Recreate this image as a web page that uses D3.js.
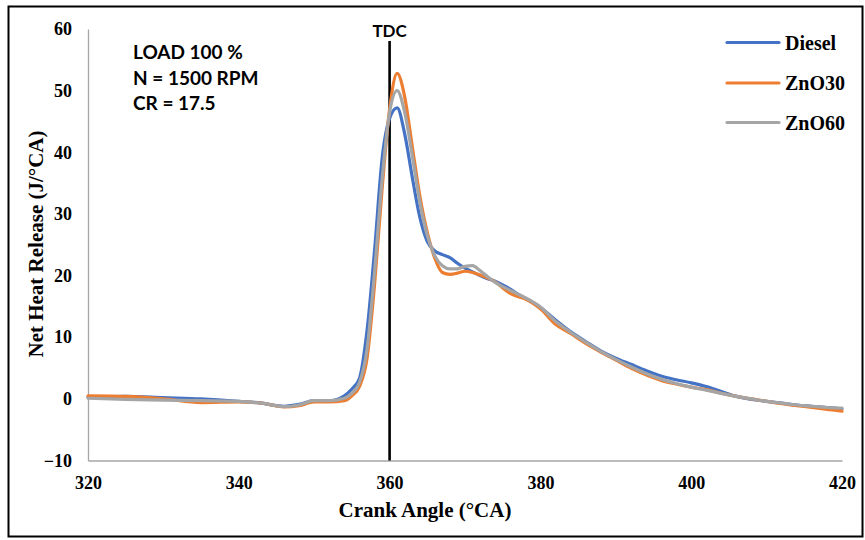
<!DOCTYPE html>
<html>
<head>
<meta charset="utf-8">
<script src="https://cdn.jsdelivr.net/npm/d3@7"></script>
<style>
  body { margin: 0; background: #fff; }
  svg { display: block; }
</style>
</head>
<body>
<div id="chart"></div>
<script>
// crank angle samples (deg CA)
var theta = [320, 325, 330, 335, 340, 343, 346, 348, 350, 352, 354, 355, 356, 357, 358, 359,
  360, 361, 362, 363, 364, 365, 366, 367, 368, 369, 370, 371, 372, 373, 374, 375, 376, 377, 378,
  380, 382, 384, 386, 388, 390, 392, 394, 396, 398, 400, 402, 404, 406, 408, 410, 412, 414, 416, 418, 420];

var diesel = [0.3, 0.4, 0.2, 0.0, -0.4, -0.7, -1.2, -0.9, -0.3, -0.3, 0.5, 1.6, 3.3, 11, 24, 38.9,
  45.5, 47.2, 43, 36, 29.5, 25.5, 24.0, 23.4, 22.9, 22.0, 21.2, 20.6, 20.0, 19.5, 19.1, 18.5, 17.8, 17.0, 16.3,
  14.8, 12.8, 10.9, 9.3, 7.8, 6.6, 5.6, 4.6, 3.7, 3.1, 2.6, 2.0, 1.2, 0.4, -0.1, -0.4, -0.7, -1.0, -1.2, -1.4, -1.6];

var zno30 = [0.5, 0.4, 0.0, -0.6, -0.5, -0.7, -1.3, -1.1, -0.5, -0.5, -0.3, 0.5, 2.0, 6.5, 18.5, 34,
  47, 52.8, 49, 41, 33, 27, 22.8, 20.5, 20.2, 20.4, 20.7, 20.5, 20.1, 19.6, 19.0, 18.0, 17.1, 16.6, 16.2,
  14.6, 12.1, 10.6, 9.0, 7.6, 6.3, 5.0, 3.9, 3.0, 2.4, 1.9, 1.5, 0.9, 0.4, 0.0, -0.4, -0.8, -1.1, -1.4, -1.7, -2.0];

var zno60 = [0.1, -0.1, -0.2, -0.3, -0.4, -0.7, -1.25, -1.0, -0.3, -0.3, 0.1, 0.9, 2.6, 8, 20.5, 35.5,
  46.5, 50.0, 46.5, 39.5, 32, 26.5, 23.2, 21.6, 21.1, 21.1, 21.5, 21.6, 20.8, 19.8, 18.9, 18.2, 17.6, 17.0, 16.4,
  14.9, 12.6, 10.8, 9.2, 7.7, 6.4, 5.2, 4.1, 3.2, 2.5, 1.9, 1.4, 0.9, 0.4, 0.0, -0.4, -0.7, -1.0, -1.2, -1.4, -1.5];

var seriesNames = ["Diesel", "ZnO30", "ZnO60"];
var seriesColors = ["#4472C4", "#ED7D31", "#A5A5A5"];
var xTicks = [320, 340, 360, 380, 400, 420];
var yTicks = [-10, 0, 10, 20, 30, 40, 50, 60];
var tdc = 360;
var notes = ["LOAD 100 %", "N = 1500 RPM", "CR = 17.5"];

var width = 865, height = 540;
var serif = "'Liberation Serif', 'Times New Roman', serif";
var sans = "Lato, Carlito, Calibri, sans-serif";

var svg = d3.select("#chart").append("svg")
  .attr("width", width)
  .attr("height", height);

svg.append("rect")
  .attr("width", width).attr("height", height)
  .attr("fill", "#fff");

// outer frame
svg.append("rect")
  .attr("x", 8.5).attr("y", 6.5)
  .attr("width", 854).attr("height", 530)
  .attr("fill", "none")
  .attr("stroke", "#000")
  .attr("stroke-width", 2);

var x = d3.scaleLinear().domain([320, 420]).range([88, 842]);
var y = d3.scaleLinear().domain([-10, 60]).range([460.5, 29]);

// y axis
var yAxis = svg.append("g")
  .attr("transform", "translate(88,0)")
  .call(d3.axisLeft(y).tickValues(yTicks).tickSize(0).tickPadding(16));
yAxis.select(".domain").attr("stroke", "#a6a6a6").attr("stroke-width", 1.3);
yAxis.selectAll("text")
  .attr("font-family", serif).attr("font-size", 18).attr("font-weight", "bold")
  .attr("fill", "#000");

// x axis at the bottom
var xAxis = svg.append("g")
  .attr("transform", "translate(0," + y(-10) + ")")
  .call(d3.axisBottom(x).tickValues(xTicks).tickSize(0).tickPadding(16));
xAxis.select(".domain").attr("stroke", "#a6a6a6").attr("stroke-width", 1.3);
xAxis.selectAll("text")
  .attr("font-family", serif).attr("font-size", 18).attr("font-weight", "bold")
  .attr("fill", "#000");

// TDC marker
svg.append("line")
  .attr("x1", x(tdc)).attr("x2", x(tdc))
  .attr("y1", 41).attr("y2", y(-10))
  .attr("stroke", "#000").attr("stroke-width", 2.6);
svg.append("text")
  .attr("x", x(tdc)).attr("y", 37)
  .attr("text-anchor", "middle")
  .attr("font-family", sans).attr("font-size", 17).attr("font-weight", "bold")
  .text("TDC");

// curves
var allSeries = [diesel, zno30, zno60];
var line = d3.line()
  .x(function(d, i) { return x(theta[i]); })
  .y(function(d) { return y(d); })
  .curve(d3.curveMonotoneX);

svg.append("g").selectAll("path")
  .data(allSeries)
  .enter().append("path")
  .attr("d", line)
  .attr("fill", "none")
  .attr("stroke", function(d, i) { return seriesColors[i]; })
  .attr("stroke-width", 3.2)
  .attr("stroke-linejoin", "round")
  .attr("stroke-linecap", "round");

// notes top left
svg.append("g").selectAll("text")
  .data(notes)
  .enter().append("text")
  .attr("x", 133)
  .attr("y", function(d, i) { return 59 + i * 25.5; })
  .attr("font-family", sans).attr("font-size", 19).attr("font-weight", "bold")
  .attr("fill", "#000")
  .text(function(d) { return d; });

// legend
var legendY = [42.5, 83, 122.5];
var legend = svg.append("g").selectAll("g")
  .data(seriesNames)
  .enter().append("g")
  .attr("transform", function(d, i) { return "translate(0," + legendY[i] + ")"; });
legend.append("line")
  .attr("x1", 727).attr("x2", 779)
  .attr("stroke", function(d, i) { return seriesColors[i]; })
  .attr("stroke-width", 3.2)
  .attr("stroke-linecap", "round");
legend.append("text")
  .attr("x", 785).attr("y", 7)
  .attr("font-family", serif).attr("font-size", 20).attr("font-weight", "bold")
  .text(function(d) { return d; });

// axis titles
svg.append("text")
  .attr("x", 425).attr("y", 517)
  .attr("text-anchor", "middle")
  .attr("font-family", serif).attr("font-size", 21).attr("font-weight", "bold")
  .text("Crank Angle (°CA)");

svg.append("text")
  .attr("transform", "translate(43,244) rotate(-90)")
  .attr("text-anchor", "middle")
  .attr("font-family", serif).attr("font-size", 21).attr("font-weight", "bold")
  .text("Net Heat Release (J/°CA)");
</script>
</body>
</html>
